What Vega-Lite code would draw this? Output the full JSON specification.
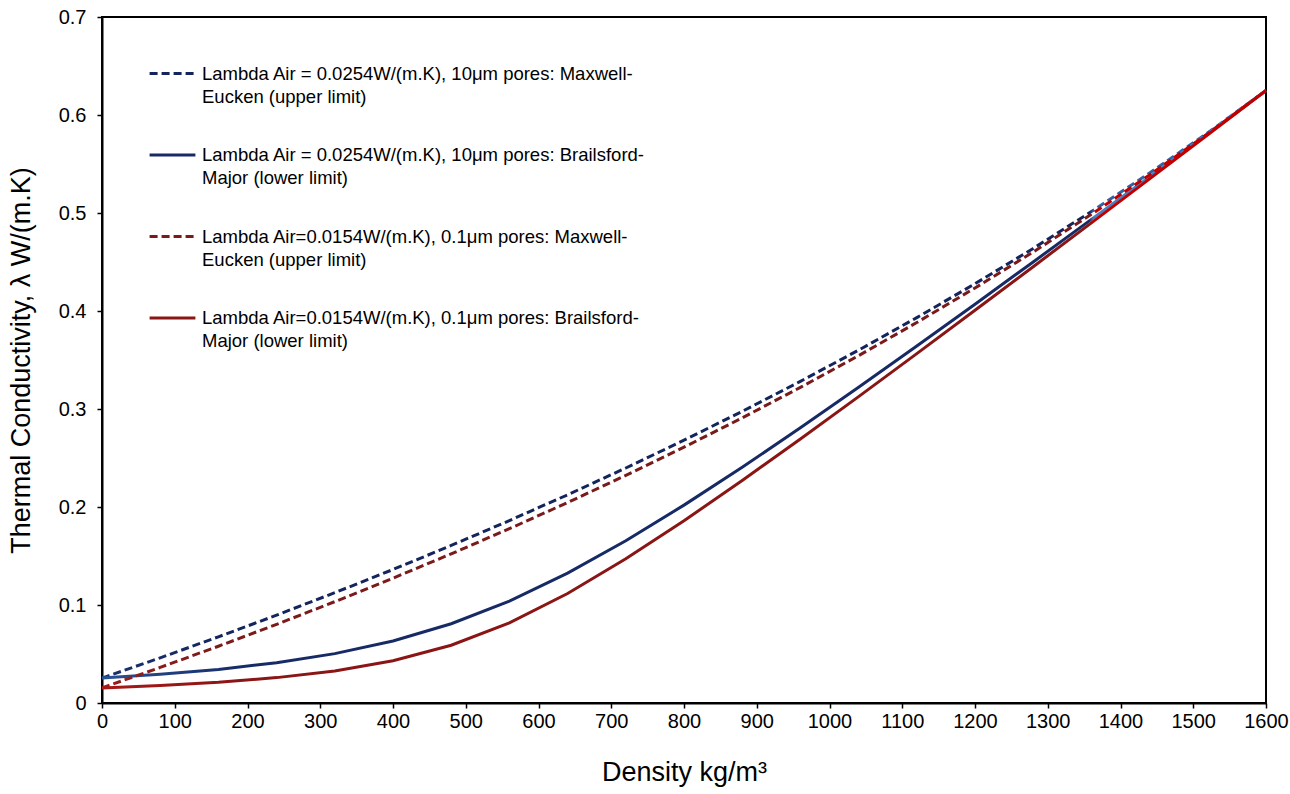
{
  "$schema": "https://vega.github.io/schema/vega-lite/v6.json",
  "width": 1164,
  "height": 686,
  "autosize": {"type": "none"},
  "padding": {"left": 102, "top": 17, "right": 24, "bottom": 91},
  "background": "white",
  "config": {
    "font": "Liberation Sans",
    "view": {"stroke": "#000000", "strokeWidth": 2},
    "style": {"guide-label": {"lineHeight": 23}},
    "axis": {"grid": false, "domainColor": "#000000", "domainWidth": 2, "tickColor": "#000000", "tickWidth": 1.5, "tickSize": 5, "labelColor": "#000000", "labelFont": "Liberation Sans", "labelFontSize": 20, "titleFont": "Liberation Sans", "titleFontSize": 27, "titleFontWeight": "normal", "titleColor": "#000000"}
  },
  "data": {"values": [
    {"d":0,"k":0.0254,"s":"A"},{"d":80,"k":0.04612,"s":"A"},{"d":160,"k":0.06753,"s":"A"},{"d":240,"k":0.08966,"s":"A"},{"d":320,"k":0.11254,"s":"A"},{"d":400,"k":0.13622,"s":"A"},{"d":480,"k":0.16074,"s":"A"},{"d":560,"k":0.18614,"s":"A"},{"d":640,"k":0.21247,"s":"A"},{"d":720,"k":0.23979,"s":"A"},{"d":800,"k":0.26814,"s":"A"},{"d":880,"k":0.2976,"s":"A"},{"d":960,"k":0.32821,"s":"A"},{"d":1040,"k":0.36007,"s":"A"},{"d":1120,"k":0.39324,"s":"A"},{"d":1200,"k":0.42781,"s":"A"},{"d":1280,"k":0.46386,"s":"A"},{"d":1360,"k":0.50148,"s":"A"},{"d":1440,"k":0.54081,"s":"A"},{"d":1520,"k":0.58194,"s":"A"},{"d":1600,"k":0.625,"s":"A"},
    {"d":0,"k":0.0254,"s":"B"},{"d":80,"k":0.02925,"s":"B"},{"d":160,"k":0.0343,"s":"B"},{"d":240,"k":0.04107,"s":"B"},{"d":320,"k":0.05037,"s":"B"},{"d":400,"k":0.06325,"s":"B"},{"d":480,"k":0.08087,"s":"B"},{"d":560,"k":0.10401,"s":"B"},{"d":640,"k":0.13255,"s":"B"},{"d":720,"k":0.16557,"s":"B"},{"d":800,"k":0.20191,"s":"B"},{"d":880,"k":0.24057,"s":"B"},{"d":960,"k":0.28081,"s":"B"},{"d":1040,"k":0.32215,"s":"B"},{"d":1120,"k":0.36427,"s":"B"},{"d":1200,"k":0.40696,"s":"B"},{"d":1280,"k":0.45006,"s":"B"},{"d":1360,"k":0.49348,"s":"B"},{"d":1440,"k":0.53714,"s":"B"},{"d":1520,"k":0.58099,"s":"B"},{"d":1600,"k":0.625,"s":"B"},
    {"d":0,"k":0.0154,"s":"C"},{"d":80,"k":0.03631,"s":"C"},{"d":160,"k":0.05792,"s":"C"},{"d":240,"k":0.08028,"s":"C"},{"d":320,"k":0.1034,"s":"C"},{"d":400,"k":0.12735,"s":"C"},{"d":480,"k":0.15216,"s":"C"},{"d":560,"k":0.17788,"s":"C"},{"d":640,"k":0.20456,"s":"C"},{"d":720,"k":0.23226,"s":"C"},{"d":800,"k":0.26103,"s":"C"},{"d":880,"k":0.29094,"s":"C"},{"d":960,"k":0.32207,"s":"C"},{"d":1040,"k":0.35447,"s":"C"},{"d":1120,"k":0.38824,"s":"C"},{"d":1200,"k":0.42346,"s":"C"},{"d":1280,"k":0.46022,"s":"C"},{"d":1360,"k":0.49864,"s":"C"},{"d":1440,"k":0.53883,"s":"C"},{"d":1520,"k":0.5809,"s":"C"},{"d":1600,"k":0.625,"s":"C"},
    {"d":0,"k":0.0154,"s":"D"},{"d":80,"k":0.01788,"s":"D"},{"d":160,"k":0.02121,"s":"D"},{"d":240,"k":0.0259,"s":"D"},{"d":320,"k":0.03274,"s":"D"},{"d":400,"k":0.04312,"s":"D"},{"d":480,"k":0.05891,"s":"D"},{"d":560,"k":0.08178,"s":"D"},{"d":640,"k":0.11173,"s":"D"},{"d":720,"k":0.1471,"s":"D"},{"d":800,"k":0.18598,"s":"D"},{"d":880,"k":0.22702,"s":"D"},{"d":960,"k":0.26941,"s":"D"},{"d":1040,"k":0.31265,"s":"D"},{"d":1120,"k":0.35648,"s":"D"},{"d":1200,"k":0.40071,"s":"D"},{"d":1280,"k":0.44523,"s":"D"},{"d":1360,"k":0.48996,"s":"D"},{"d":1440,"k":0.53486,"s":"D"},{"d":1520,"k":0.57988,"s":"D"},{"d":1600,"k":0.625,"s":"D"}
  ]},
  "encoding": {
    "x": {"field": "d", "type": "quantitative", "scale": {"domain": [0, 1600], "nice": false}, "axis": {"values": [0,100,200,300,400,500,600,700,800,900,1000,1100,1200,1300,1400,1500,1600], "format": "d", "title": "Density kg/m³", "labelPadding": 3, "titlePadding": 28, "labelFlush": false, "labelOverlap": false}},
    "y": {"field": "k", "type": "quantitative", "scale": {"domain": [0, 0.7], "nice": false}, "axis": {"values": [0,0.1,0.2,0.3,0.4,0.5,0.6,0.7], "labelExpr": "datum.value == 0 ? '0' : format(datum.value, '.1f')", "title": "Thermal Conductivity, λ W/(m.K)", "labelPadding": 11, "titlePadding": 23, "labelFlush": false, "labelOverlap": false}}
  },
  "layer": [
    {
      "mark": {"type": "line", "opacity": 0, "strokeWidth": 3},
      "encoding": {
        "color": {"field": "s", "type": "nominal", "scale": {"domain": ["A","B","C","D"], "range": ["#14255E","#162A66","#7B1A1A","#8A1515"]},
          "legend": {"orient": "none", "legendX": 46, "legendY": 32, "title": null, "symbolType": "stroke", "symbolSize": 2100, "symbolStrokeWidth": 3, "symbolOpacity": 1, "labelFontSize": 18.5, "labelColor": "#000000", "labelLimit": 700, "labelOffset": 5, "rowPadding": 24.5, "labelBaseline": "middle",
            "labelExpr": "datum.value == 'A' ? ['Lambda Air = 0.0254W/(m.K), 10μm pores: Maxwell-', 'Eucken (upper limit)'] : datum.value == 'B' ? ['Lambda Air = 0.0254W/(m.K), 10μm pores: Brailsford-', 'Major (lower limit)'] : datum.value == 'C' ? ['Lambda Air=0.0154W/(m.K), 0.1μm  pores: Maxwell-', 'Eucken (upper limit)'] : ['Lambda Air=0.0154W/(m.K), 0.1μm pores: Brailsford-', 'Major (lower limit)']"}},
        "strokeDash": {"field": "s", "type": "nominal", "scale": {"domain": ["A","B","C","D"], "range": [[8,4],[1,0],[8,4],[1,0]]}, "legend": null}
      }
    },
    {
      "transform": [{"filter": "datum.s == 'A'"}],
      "mark": {"type": "line", "strokeWidth": 3, "strokeDash": [8,4], "stroke": {"gradient": "linear", "x1": 0, "y1": 0, "x2": 1, "y2": 0, "stops": [{"offset": 0, "color": "#1A3370"}, {"offset": 0.1, "color": "#14255E"}, {"offset": 0.848, "color": "#14255E"}, {"offset": 0.852, "color": "#2E64A8"}, {"offset": 1, "color": "#2E64A8"}]}},
      "encoding": {}
    },
    {
      "transform": [{"filter": "datum.s == 'B'"}],
      "mark": {"type": "line", "strokeWidth": 3, "stroke": {"gradient": "linear", "x1": 0, "y1": 0, "x2": 1, "y2": 0, "stops": [{"offset": 0, "color": "#2A5396"}, {"offset": 0.12, "color": "#162A66"}, {"offset": 0.848, "color": "#162A66"}, {"offset": 0.852, "color": "#4A7EC2"}, {"offset": 1, "color": "#4A7EC2"}]}},
      "encoding": {}
    },
    {
      "transform": [{"filter": "datum.s == 'C'"}],
      "mark": {"type": "line", "strokeWidth": 3, "strokeDash": [8,4], "stroke": {"gradient": "linear", "x1": 0, "y1": 0, "x2": 1, "y2": 0, "stops": [{"offset": 0, "color": "#9A1C1C"}, {"offset": 0.1, "color": "#7B1A1A"}, {"offset": 0.848, "color": "#7B1A1A"}, {"offset": 0.852, "color": "#C00000"}, {"offset": 1, "color": "#C00000"}]}},
      "encoding": {}
    },
    {
      "transform": [{"filter": "datum.s == 'D'"}],
      "mark": {"type": "line", "strokeWidth": 3, "stroke": {"gradient": "linear", "x1": 0, "y1": 0, "x2": 1, "y2": 0, "stops": [{"offset": 0, "color": "#A81818"}, {"offset": 0.12, "color": "#8A1515"}, {"offset": 0.848, "color": "#8A1515"}, {"offset": 0.852, "color": "#C00000"}, {"offset": 1, "color": "#C00000"}]}},
      "encoding": {}
    }
  ]
}
